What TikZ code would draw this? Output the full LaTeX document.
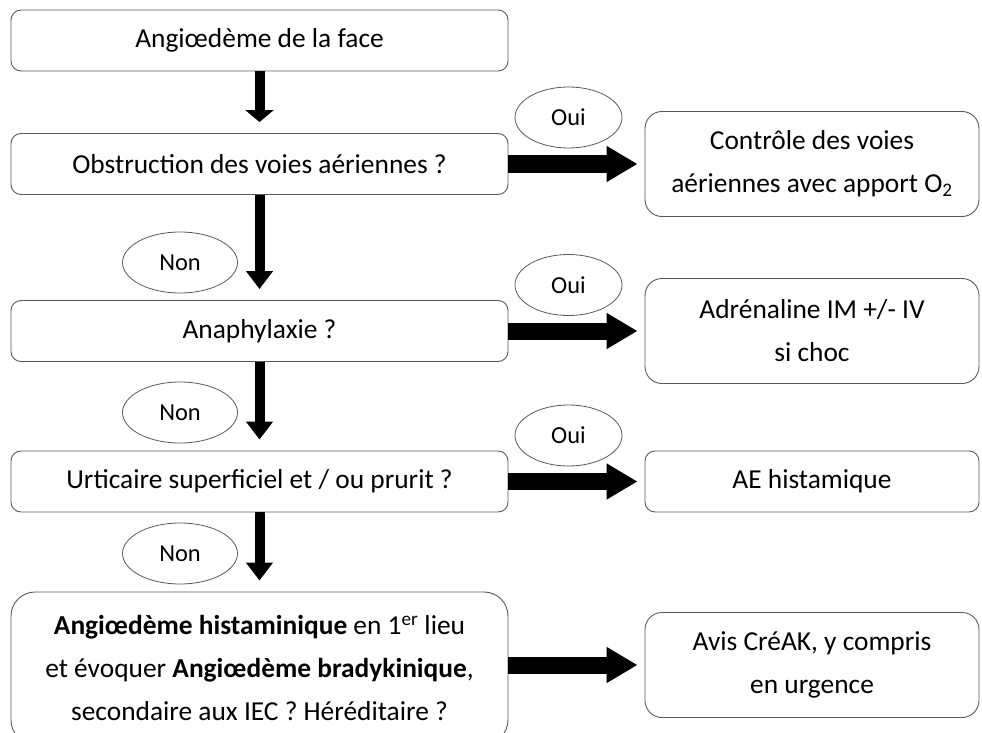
\documentclass[tikz,border=0pt]{standalone}
\usepackage{fontspec}
\setmainfont{Carlito}
\usetikzlibrary{arrows.meta}
\usetikzlibrary{shapes.geometric}

\begin{document}
\begin{tikzpicture}[x=1bp,y=-1bp,
    box/.style={draw=black!65,line width=0.9bp,rounded corners=10bp,inner sep=0pt,
        minimum width=497bp,minimum height=61bp,align=center,
        font=\fontsize{27.5}{43}\selectfont},
    result/.style={box,minimum width=334bp,minimum height=105bp,rounded corners=17bp},
    choix/.style={draw=black!65,line width=0.8bp,ellipse,inner sep=0pt,
        minimum width=107bp,minimum height=61bp,font=\fontsize{24.5}{28}\selectfont},
    down/.style={line width=10bp,-{Triangle[width=26bp,length=18bp]},shorten >=11bp},
    right/.style={line width=17bp,-{Triangle[width=34bp,length=31bp]},shorten >=7bp}]
    \useasboundingbox (0,0) rectangle (982,733);

    \node [box] (q1) at (259.5,40.5) {Angiœdème de la face};
    \node [box] (q2) at (259.5,164) {Obstruction des voies aériennes ?};
    \node [box] (q3) at (259.5,331) {Anaphylaxie ?};
    \node [box] (q4) at (259.5,481.5) {Urticaire superficiel et / ou prurit ?};
    \node [box,minimum height=152bp,rounded corners=24bp] (q5) at (259.5,668)
        {\textbf{Angiœdème histaminique} en 1\textsuperscript{er} lieu\\
         et évoquer \textbf{Angiœdème bradykinique},\\
         secondaire aux IEC ? Héréditaire ?};

    \node [result] (r1) at (812,164) {Contrôle des voies\\aériennes avec apport O\textsubscript{2}};
    \node [result] (r2) at (812,331) {Adrénaline IM +/- IV\\si choc};
    \node [result,minimum height=61bp,rounded corners=10bp] (r3) at (812,481.5) {AE histamique};
    \node [result] (r4) at (812,665) {Avis CréAK, y compris\\en urgence};

    \node [choix] (oui1) at (568.5,117.5) {Oui};
    \node [choix] (oui2) at (568.5,285) {Oui};
    \node [choix] (oui3) at (568.5,435.5) {Oui};
    \node [choix,minimum width=115bp] (non1) at (180,262.5) {Non};
    \node [choix,minimum width=115bp] (non2) at (180,412.5) {Non};
    \node [choix,minimum width=115bp] (non3) at (180,553.5) {Non};

    \draw [down,-{Triangle[width=28bp,length=12bp]}] (q1) -- (q2);
    \draw [down] (q2) -- (q3);
    \draw [down] (q3) -- (q4);
    \draw [down] (q4) -- (q5);

    \draw [right] (q2) -- (r1);
    \draw [right] (q3) -- (r2);
    \draw [right] (q4) -- (r3);
    \draw [right] (r4.west -| q5.east) -- (r4);
\end{tikzpicture}
\end{document}
